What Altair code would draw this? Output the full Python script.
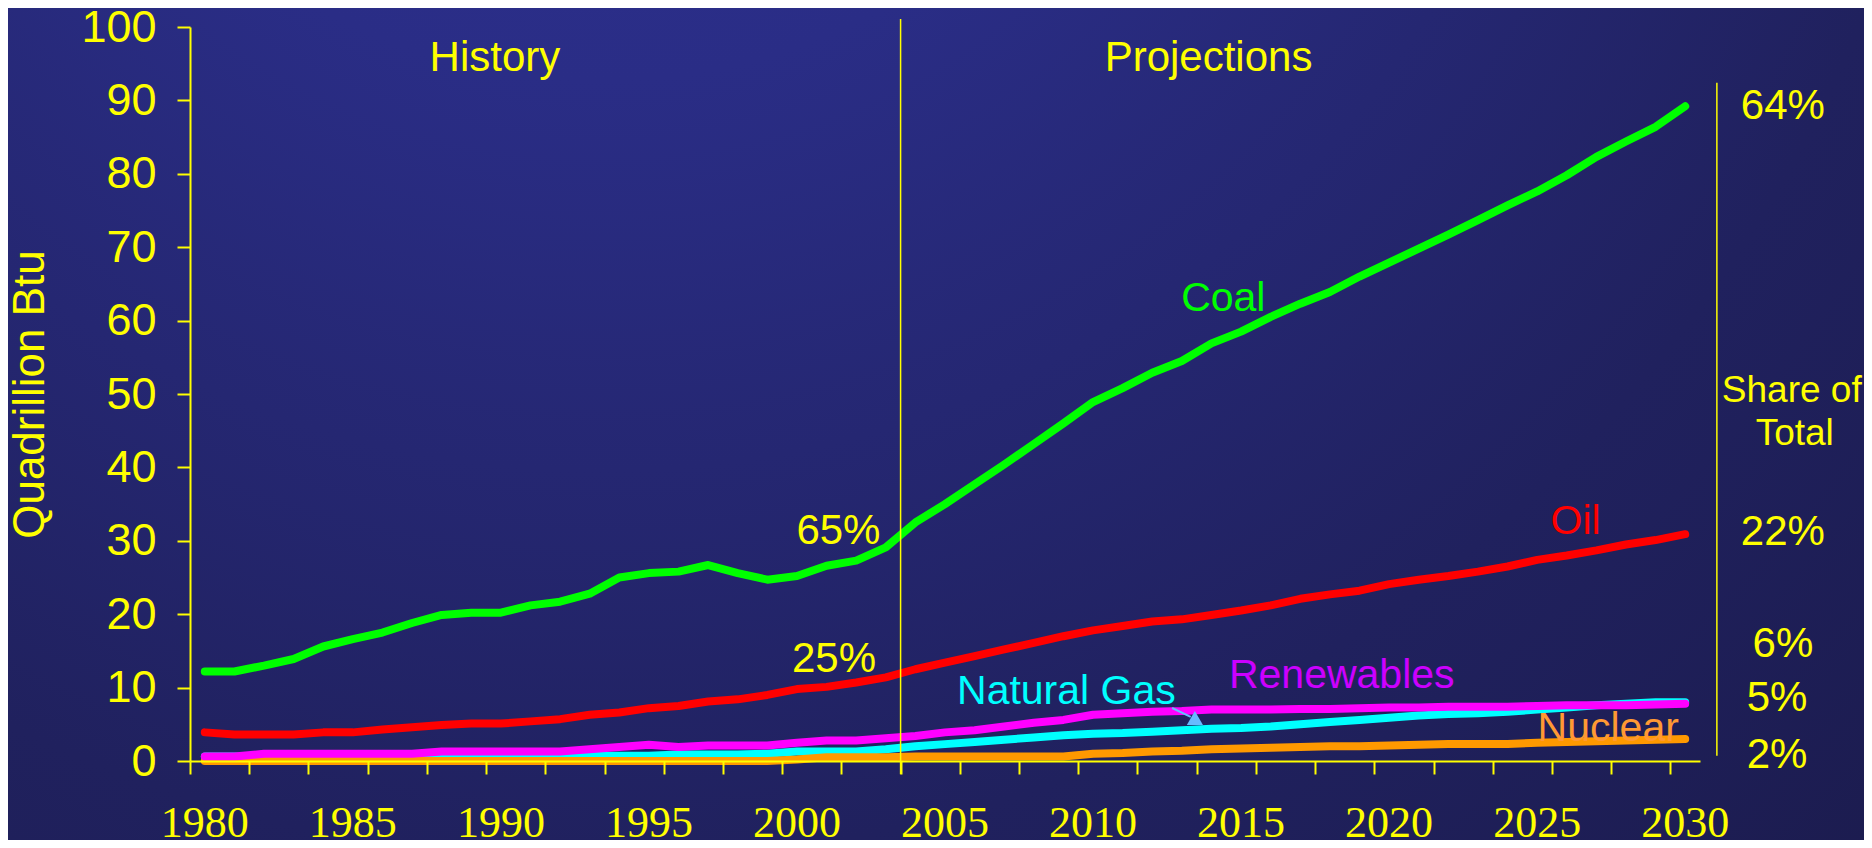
import altair as alt
import pandas as pd

YEARS = list(range(1980, 2031))
COAL = [12.2, 12.2, 13.0, 13.9, 15.6, 16.6, 17.5, 18.8, 19.9, 20.2,
        20.2, 21.2, 21.7, 22.8, 25.0, 25.6, 25.8, 26.7, 25.6, 24.7,
        25.2, 26.6, 27.3, 29.1, 32.5, 35.0, 37.7, 40.4, 43.2, 46.0,
        48.9, 50.8, 52.9, 54.5, 56.9, 58.5, 60.5, 62.3, 63.9, 66.0,
        67.9, 69.8, 71.7, 73.7, 75.7, 77.6, 79.8, 82.3, 84.4, 86.4, 89.2]
OIL = [3.9, 3.6, 3.6, 3.6, 3.9, 3.9, 4.3, 4.6, 4.9, 5.1,
       5.1, 5.4, 5.7, 6.3, 6.6, 7.2, 7.5, 8.1, 8.4, 9.0,
       9.8, 10.1, 10.7, 11.4, 12.5, 13.4, 14.3, 15.2, 16.1, 17.0,
       17.8, 18.4, 19.0, 19.3, 19.9, 20.5, 21.2, 22.1, 22.7, 23.2,
       24.1, 24.7, 25.2, 25.8, 26.5, 27.4, 28.0, 28.7, 29.5, 30.1, 30.9]
GAS = [0.6, 0.6, 0.5, 0.5, 0.5, 0.5, 0.5, 0.6, 0.6, 0.6,
       0.6, 0.6, 0.6, 0.7, 0.7, 0.7, 0.9, 0.9, 0.9, 1.0,
       1.3, 1.3, 1.3, 1.6, 2.0, 2.3, 2.6, 2.9, 3.2, 3.5,
       3.7, 3.8, 4.0, 4.2, 4.4, 4.5, 4.7, 5.0, 5.3, 5.6,
       5.9, 6.2, 6.4, 6.5, 6.7, 7.0, 7.3, 7.6, 7.8, 8.0, 8.0]
RENEW = [0.6, 0.6, 1.0, 1.0, 1.0, 1.0, 1.0, 1.0, 1.3, 1.3,
         1.3, 1.3, 1.3, 1.6, 1.9, 2.2, 1.9, 2.1, 2.1, 2.1,
         2.5, 2.8, 2.8, 3.1, 3.4, 3.9, 4.2, 4.7, 5.2, 5.6,
         6.3, 6.5, 6.7, 6.8, 7.0, 7.0, 7.0, 7.1, 7.1, 7.2,
         7.3, 7.3, 7.4, 7.4, 7.4, 7.5, 7.6, 7.6, 7.6, 7.7, 7.8]
NUC = [0.0] * 20 + [
       0.2, 0.5, 0.5, 0.5, 0.6, 0.6, 0.6, 0.6, 0.6, 0.6,
       1.0, 1.1, 1.3, 1.4, 1.6, 1.7, 1.8, 1.9, 2.0, 2.0,
       2.1, 2.2, 2.3, 2.3, 2.3, 2.5, 2.6, 2.7, 2.8, 2.9, 3.0]

# draw order bottom -> top, with line colours
SERIES = [("Natural Gas", GAS, "#00FFFF"),
          ("Nuclear", NUC, "#FF9900"),
          ("Renewables", RENEW, "#FF00FF"),
          ("Oil", OIL, "#FF0000"),
          ("Coal", COAL, "#00FF00")]

X_TICKS = [1979.5 + i for i in range(52)]
X_LABELS = list(range(1980, 2031, 5))
Y_TICKS = list(range(0, 101, 10))

# annotations (text, year, value, colour, size)
ANNOT = [
    ("History", 1989.8, 94.0, "#FFFF00", 42),
    ("Projections", 2013.9, 94.0, "#FFFF00", 42),
    ("64%", 2033.3, 87.4, "#FFFF00", 42),
    ("Share of", 2033.6, 48.9, "#FFFF00", 37),
    ("Total", 2033.7, 43.1, "#FFFF00", 37),
    ("22%", 2033.3, 29.4, "#FFFF00", 42),
    ("6%", 2033.3, 14.2, "#FFFF00", 42),
    ("5%", 2033.1, 6.8, "#FFFF00", 42),
    ("2%", 2033.1, -1.0, "#FFFF00", 42),
    ("65%", 2001.4, 29.6, "#FFFF00", 42),
    ("25%", 2001.25, 12.1, "#FFFF00", 42),
    ("Coal", 2014.4, 61.3, "#00FF00", 41),
    ("Oil", 2026.3, 30.9, "#FF0000", 41),
    ("Natural Gas", 2009.1, 7.8, "#00FFFF", 41),
    ("Renewables", 2018.4, 9.9, "#CC00FF", 41),
    ("Nuclear", 2027.4, 2.7, "#FF9933", 41),
]

YEL = "#FFFF00"
W, H = 1510, 734
PL, PT, PR, PB = 182, 19, 164, 79

xscale = alt.Scale(domain=[1979.5, 2030.5], nice=False, zero=False)
yscale = alt.Scale(domain=[0, 100], nice=False, zero=False)

xaxis = alt.Axis(values=X_TICKS, tickSize=13, tickWidth=2, tickColor=YEL,
                 domainColor=YEL, domainWidth=2, grid=False, title=None, zindex=1,
                 labels=False)
yaxis = alt.Axis(values=Y_TICKS, tickSize=13, tickWidth=2, tickColor=YEL,
                 domainColor=YEL, domainWidth=2, grid=False, zindex=1,
                 title="Quadrillion Btu", titleFont="Liberation Sans",
                 titleFontSize=44, titleFontWeight="normal", titleColor=YEL,
                 titleX=-160, titleY=H / 2, titleBaseline="middle", titleAlign="center",
                 labelFont="Liberation Sans", labelFontSize=45, labelColor=YEL,
                 labelPadding=21, labelOverlap=False, labelFlush=False)

bg = alt.Chart(pd.DataFrame({"k": [0]})).mark_rect(
    color=alt.RadialGradient(
        gradient="radial", x1=0.32, y1=0.0, x2=0.32, y2=0.0, r1=0, r2=1.05,
        stops=[alt.GradientStop(color="#2F3294", offset=0),
               alt.GradientStop(color="#2A2D86", offset=0.3),
               alt.GradientStop(color="#20215E", offset=0.7),
               alt.GradientStop(color="#1B1B4D", offset=1)]),
).encode(x=alt.value(-PL), x2=alt.value(W + PR), y=alt.value(-PT), y2=alt.value(H + PB))

layers = [bg]
for i, (name, vals, col) in enumerate(SERIES):
    df = pd.DataFrame({"year": YEARS, "value": vals})
    enc = dict(x=alt.X("year:Q", scale=xscale, axis=xaxis),
               y=alt.Y("value:Q", scale=yscale, axis=yaxis))
    layers.append(alt.Chart(df).mark_line(color=col, strokeWidth=8,
                                          strokeCap="round", strokeJoin="round").encode(**enc))

# year labels under the axis
yl = pd.DataFrame({"year": X_LABELS, "t": [str(v) for v in X_LABELS]})
layers.append(alt.Chart(yl).mark_text(color=YEL, fontSize=44, font="Liberation Serif",
                                      align="center", baseline="alphabetic").encode(
    x=alt.X("year:Q", scale=xscale), y=alt.value(H + 76), text="t:N"))

# divider lines
div = pd.DataFrame({"x": [2003.5], "y": [-1.8], "y2": [101.1]})
layers.append(alt.Chart(div).mark_rule(color=YEL, strokeWidth=1.5).encode(
    x=alt.X("x:Q", scale=xscale), y=alt.Y("y:Q", scale=yscale), y2="y2:Q"))
rdiv = pd.DataFrame({"x": [2031.07], "y": [0.7], "y2": [92.4]})
layers.append(alt.Chart(rdiv).mark_rule(color=YEL, strokeWidth=1.5).encode(
    x=alt.X("x:Q", scale=xscale), y=alt.Y("y:Q", scale=yscale), y2="y2:Q"))

# arrow Natural Gas label -> line
arr = pd.DataFrame({"x": [2012.67], "y": [7.22], "x2": [2013.3], "y2": [6.0]})
layers.append(alt.Chart(arr).mark_rule(color="#66BBFF", strokeWidth=2).encode(
    x=alt.X("x:Q", scale=xscale), y=alt.Y("y:Q", scale=yscale), x2="x2:Q", y2="y2:Q"))
head = pd.DataFrame({"x": [2013.44], "y": [5.86]})
layers.append(alt.Chart(head).mark_point(shape="triangle-up", size=260, filled=True,
                                          color="#66BBFF", opacity=1).encode(
    x=alt.X("x:Q", scale=xscale), y=alt.Y("y:Q", scale=yscale)))

for txt, xv, yv, col, fs in ANNOT:
    d = pd.DataFrame({"x": [xv], "y": [yv], "t": [txt]})
    layers.append(alt.Chart(d).mark_text(color=col, fontSize=fs, font="Liberation Sans",
                                         align="center", baseline="alphabetic").encode(
        x=alt.X("x:Q", scale=xscale), y=alt.Y("y:Q", scale=yscale), text="t:N"))

chart = alt.layer(*layers).properties(
    width=W, height=H,
    autosize=alt.AutoSizeParams(type="none"),
    padding={"left": PL, "top": PT, "right": PR, "bottom": PB},
    background="#1E1F58",
).configure_view(stroke=None)

chart.save("out.html", embed_options={"renderer": "svg", "actions": False})
